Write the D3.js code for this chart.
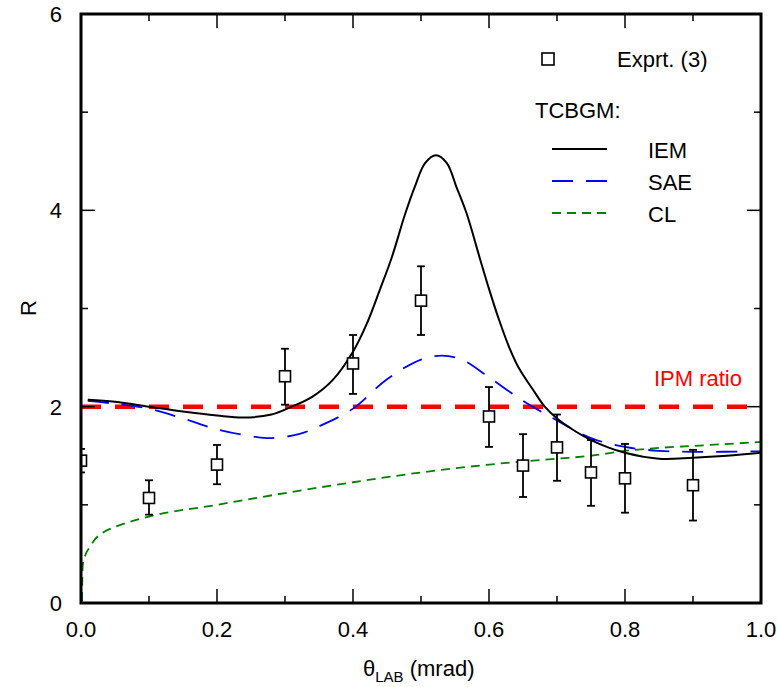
<!DOCTYPE html>
<html>
<head>
<meta charset="utf-8">
<script src="https://cdn.jsdelivr.net/npm/d3@7"></script>
<style>
  html, body { margin: 0; padding: 0; background: #fff; }
  svg { display: block; font-family: "Liberation Sans", Arial, sans-serif; }
</style>
</head>
<body>
<svg id="chart" width="778" height="687"></svg>
<script>
// ── Data ─────────────────────────────────────────────────────────────────────
const exprX  = [0.0, 0.1, 0.2, 0.3, 0.4, 0.5, 0.6, 0.65, 0.7, 0.75, 0.8, 0.9];
const exprR  = [1.45, 1.07, 1.41, 2.31, 2.44, 3.08, 1.90, 1.40, 1.585, 1.33, 1.27, 1.20];
const exprLo = [1.33, 0.90, 1.21, 2.02, 2.13, 2.73, 1.59, 1.08, 1.245, 0.99, 0.92, 0.84];
const exprHi = [1.57, 1.25, 1.61, 2.59, 2.73, 3.43, 2.20, 1.72, 1.92, 1.66, 1.62, 1.56];

const iemX = [0.01, 0.05, 0.1, 0.15, 0.2, 0.24, 0.28, 0.31, 0.34, 0.37, 0.4, 0.42, 0.44, 0.457, 0.477, 0.492, 0.506, 0.522,
              0.538, 0.552, 0.567, 0.587, 0.6, 0.615, 0.63, 0.645, 0.665, 0.682, 0.7, 0.72, 0.75, 0.8, 0.85, 0.9, 0.95, 1.0];
const iemR = [2.07, 2.05, 2.0, 1.95, 1.91, 1.89, 1.92, 2.0, 2.1, 2.27, 2.56, 2.84, 3.2, 3.52, 3.97, 4.26, 4.48, 4.56,
              4.48, 4.24, 3.97, 3.5, 3.2, 2.88, 2.6, 2.38, 2.17, 2.0, 1.88, 1.78, 1.66, 1.53, 1.47, 1.48, 1.50, 1.53];

const saeX = [0.01, 0.05, 0.1, 0.15, 0.2, 0.25, 0.28, 0.32, 0.35, 0.4, 0.45, 0.5, 0.53, 0.56, 0.6, 0.65, 0.7, 0.75, 0.8, 0.85, 0.9, 1.0];
const saeR = [2.06, 2.03, 1.98, 1.88, 1.77, 1.70, 1.68, 1.72, 1.80, 1.98, 2.28, 2.48, 2.52, 2.48, 2.30, 2.06, 1.86, 1.68, 1.59, 1.55, 1.54, 1.545];

const clX = [0.0015, 0.0025, 0.006, 0.013, 0.022, 0.033, 0.052, 0.1, 0.2, 0.3, 0.4, 0.5, 0.6, 0.7, 0.75, 0.8, 0.85, 0.9, 1.0];
const clR = [0.02, 0.38, 0.48, 0.57, 0.66, 0.72, 0.78, 0.88, 1.0, 1.12, 1.23, 1.33, 1.41, 1.47, 1.50, 1.55, 1.58, 1.60, 1.64];

const ipmRatio = 2.0;

const xTicks = [0, 0.2, 0.4, 0.6, 0.8, 1.0];
const xMinor = [0.1, 0.3, 0.5, 0.7, 0.9];
const yTicks = [0, 2, 4, 6];
const yMinor = [1, 3, 5];

const legendItems = [
  { label: "IEM", color: "#000", dash: null },
  { label: "SAE", color: "#0000ff", dash: "21,13" },
  { label: "CL",  color: "#008000", dash: "9,6" },
];

// ── Layout ───────────────────────────────────────────────────────────────────
const svg = d3.select("#chart");
const L = 81, R = 761, T = 14, B = 603;
const x = d3.scaleLinear().domain([0, 1]).range([L, R]);
const y = d3.scaleLinear().domain([0, 6]).range([B, T]);
const FONT = 22;

svg.append("defs").append("clipPath").attr("id", "plot-clip")
  .append("rect").attr("x", L).attr("y", T).attr("width", R - L).attr("height", B - T);

const plot = svg.append("g").attr("clip-path", "url(#plot-clip)");

// IPM ratio line
plot.append("line")
  .attr("x1", x(0)).attr("x2", x(1))
  .attr("y1", y(ipmRatio)).attr("y2", y(ipmRatio))
  .attr("stroke", "#ff0000").attr("stroke-width", 4.5)
  .attr("stroke-dasharray", "20,14");

// Theory curves
const line = (xs, ys, curve) => d3.line()
  .x(i => x(xs[i])).y(i => y(ys[i]))
  .curve(curve)(d3.range(xs.length));

plot.append("path").attr("d", line(clX, clR, d3.curveMonotoneX))
  .attr("fill", "none").attr("stroke", "#008000").attr("stroke-width", 1.8)
  .attr("stroke-dasharray", "9,6");
plot.append("path").attr("d", line(saeX, saeR, d3.curveCatmullRom.alpha(0.5)))
  .attr("fill", "none").attr("stroke", "#0000ff").attr("stroke-width", 1.8)
  .attr("stroke-dasharray", "21,13");
plot.append("path").attr("d", line(iemX, iemR, d3.curveCatmullRom.alpha(0.5)))
  .attr("fill", "none").attr("stroke", "#000").attr("stroke-width", 2);

// Experimental points with error bars
const pts = plot.selectAll("g.pt").data(d3.range(exprX.length)).join("g").attr("class", "pt");
pts.append("line")
  .attr("x1", i => x(exprX[i])).attr("x2", i => x(exprX[i]))
  .attr("y1", i => y(exprLo[i])).attr("y2", i => y(exprHi[i]))
  .attr("stroke", "#000").attr("stroke-width", 1.8);
[exprLo, exprHi].forEach(arr => {
  pts.append("line")
    .attr("x1", i => x(exprX[i]) - 4).attr("x2", i => x(exprX[i]) + 4)
    .attr("y1", i => y(arr[i])).attr("y2", i => y(arr[i]))
    .attr("stroke", "#000").attr("stroke-width", 1.8);
});
pts.append("rect")
  .attr("x", i => x(exprX[i]) - 5.5).attr("y", i => y(exprR[i]) - 5.5)
  .attr("width", 11).attr("height", 11)
  .attr("fill", "#fff").attr("stroke", "#000").attr("stroke-width", 1.6);

// ── Axes frame and ticks (inward, mirrored) ──────────────────────────────────
const ax = svg.append("g").attr("stroke", "#000");
const tick = (x1, y1, x2, y2) => ax.append("line")
  .attr("x1", x1).attr("y1", y1).attr("x2", x2).attr("y2", y2).attr("stroke-width", 1.5);
xTicks.forEach(v => { tick(x(v), B, x(v), B - 14); tick(x(v), T, x(v), T + 14); });
xMinor.forEach(v => { tick(x(v), B, x(v), B - 7); tick(x(v), T, x(v), T + 7); });
yTicks.forEach(v => { tick(L, y(v), L + 14, y(v)); tick(R, y(v), R - 14, y(v)); });
yMinor.forEach(v => { tick(L, y(v), L + 7, y(v)); tick(R, y(v), R - 7, y(v)); });

ax.append("rect").attr("x", L).attr("y", T).attr("width", R - L).attr("height", B - T)
  .attr("fill", "none").attr("stroke-width", 3);

// Tick labels
svg.append("g").selectAll("text").data(xTicks).join("text")
  .attr("x", d => x(d)).attr("y", 637).attr("text-anchor", "middle")
  .attr("font-size", FONT).text(d3.format(".1f"));
svg.append("g").selectAll("text").data(yTicks).join("text")
  .attr("x", 62).attr("y", d => y(d) + 8).attr("text-anchor", "end")
  .attr("font-size", FONT).text(d => d);

// Axis titles
const xt = svg.append("text").attr("x", 363).attr("y", 676).attr("font-size", FONT);
xt.append("tspan").text("θ");
xt.append("tspan").attr("font-size", 15).attr("dy", 6).text("LAB");
xt.append("tspan").attr("dy", -6).text(" (mrad)");

svg.append("text").attr("transform", `translate(36,308) rotate(-90)`)
  .attr("text-anchor", "middle").attr("font-size", FONT).text("R");

// IPM label
svg.append("text").attr("x", 742).attr("y", 386).attr("text-anchor", "end")
  .attr("font-size", FONT).attr("fill", "#ff0000").text("IPM ratio");

// ── Legend ───────────────────────────────────────────────────────────────────
const leg = svg.append("g");
leg.append("rect").attr("x", 542).attr("y", 53).attr("width", 12).attr("height", 12)
  .attr("fill", "#fff").attr("stroke", "#000").attr("stroke-width", 1.6);
leg.append("text").attr("x", 617).attr("y", 67).attr("font-size", FONT).text("Exprt. (3)");
leg.append("text").attr("x", 535).attr("y", 118).attr("font-size", FONT).text("TCBGM:");
legendItems.forEach((d, i) => {
  const ly = 149 + i * 32;
  leg.append("line").attr("x1", 552).attr("x2", 607).attr("y1", ly).attr("y2", ly)
    .attr("stroke", d.color).attr("stroke-width", 1.8)
    .attr("stroke-dasharray", d.dash);
  leg.append("text").attr("x", 648).attr("y", ly + 9).attr("font-size", FONT).text(d.label);
});
</script>
</body>
</html>
